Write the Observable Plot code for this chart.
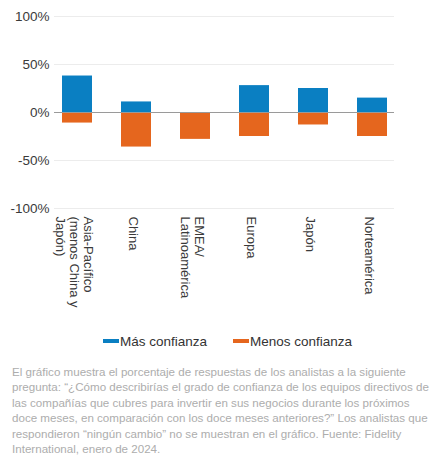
<!DOCTYPE html>
<html>
<head>
<meta charset="utf-8">
<script src="https://cdn.jsdelivr.net/npm/d3@7"></script>
<script src="https://cdn.jsdelivr.net/npm/@observablehq/plot@0.6"></script>
<style>
  body { margin: 0; background: #fff; font-family: "Liberation Sans", Arial, sans-serif; }
  #chart svg { display: block; }
  .legend { display: flex; justify-content: center; align-items: center; gap: 26px; font-size: 13.5px; color: #333; height: 30px; margin-top: 14px; padding-left: 8px; }
  .legend span { display: inline-flex; align-items: center; }
  .legend i { display: inline-block; width: 16px; height: 4px; margin-right: 1px; }
  .caption { font-size: 11.6px; line-height: 15.4px; color: #adadad; padding: 0 12px; margin-top: 8px; }
</style>
</head>
<body>
<div id="chart"></div>
<div class="legend">
  <span><i style="background:#0a7fc2"></i>Más confianza</span>
  <span><i style="background:#e5661e"></i>Menos confianza</span>
</div>
<div class="caption">El gráfico muestra el porcentaje de respuestas de los analistas a la siguiente pregunta: “¿Cómo describirías el grado de confianza de los equipos directivos de las compañías que cubres para invertir en sus negocios durante los próximos doce meses, en comparación con los doce meses anteriores?” Los analistas que respondieron “ningún cambio” no se muestran en el gráfico. Fuente: Fidelity International, enero de 2024.</div>
<script>
const regiones = ['Asia-Pacífico\n(menos China y\nJapón)', 'China', 'EMEA/\nLatinoamérica', 'Europa', 'Japón', 'Norteamérica']
const masConfianza = [38, 11, 0, 28, 25, 15]
const menosConfianza = [-11, -36, -28, -25, -13, -25]
const yTicks = [-100, -50, 0, 50, 100]

const data = regiones.flatMap((r, i) => [
  {region: r, serie: 'Más confianza', valor: masConfianza[i]},
  {region: r, serie: 'Menos confianza', valor: menosConfianza[i]}
]).filter(d => d.valor !== 0)

const chart = Plot.plot({
  width: 447,
  height: 312,
  marginTop: 16,
  marginBottom: 104,
  marginLeft: 54,
  marginRight: 53,
  style: {fontFamily: '"Liberation Sans", Arial, sans-serif', fontSize: '13px', color: '#3a3a3a'},
  x: {domain: regiones, paddingInner: 0.5, paddingOuter: 0.12, label: null},
  y: {domain: [-100, 100], label: null},
  color: {domain: ['Más confianza', 'Menos confianza'], range: ['#0a7fc2', '#e5661e']},
  marks: [
    Plot.ruleY(yTicks, {stroke: '#ececec', strokeWidth: 1}),
    Plot.barY(data, {x: 'region', y1: 0, y2: 'valor', fill: 'serie'}),
    Plot.ruleY([0], {stroke: '#9a9a9a', strokeWidth: 1}),
    Plot.axisY({ticks: yTicks, tickSize: 0, tickPadding: 5, tickFormat: d => d + '%', fontSize: 13.5, label: null}),
    Plot.axisX({tickSize: 0, tickPadding: 8, tickRotate: 90, fontSize: 13, lineHeight: 1.08, dx: -3, label: null})
  ]
})
document.querySelector('#chart').append(chart)
</script>
</body>
</html>
